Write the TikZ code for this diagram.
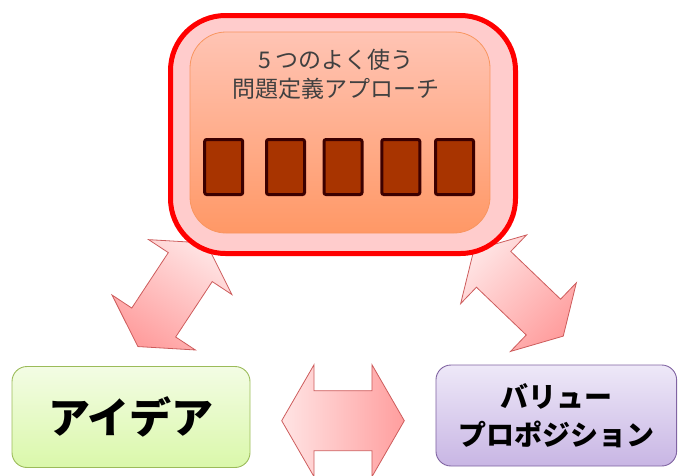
\documentclass[tikz,border=0pt]{standalone}
\usepackage{xcolor}
\usepackage{fontspec}
\usepackage{tikz}
\usetikzlibrary{shapes.arrows}
\newfontfamily\jpfont{Noto Sans CJK JP}

\definecolor{framered}{RGB}{255,0,0}
\definecolor{framefill}{RGB}{255,204,204}
\definecolor{coretop}{RGB}{255,196,180}
\definecolor{corebottom}{RGB}{255,152,102}
\definecolor{coreline}{RGB}{248,150,96}
\definecolor{cardfill}{RGB}{168,52,0}
\definecolor{cardline}{RGB}{60,0,0}
\definecolor{arrowlight}{RGB}{255,228,228}
\definecolor{arrowdark}{RGB}{255,158,158}
\definecolor{arrowline}{RGB}{205,92,92}
\definecolor{ideatop}{RGB}{243,252,228}
\definecolor{ideabottom}{RGB}{218,248,170}
\definecolor{idealine}{RGB}{155,187,89}
\definecolor{valuetop}{RGB}{238,232,248}
\definecolor{valuebottom}{RGB}{200,182,228}
\definecolor{valueline}{RGB}{128,100,162}
\definecolor{titlegray}{RGB}{64,64,64}

\begin{document}
\begin{tikzpicture}[x=1pt,y=-1pt,
    bigarrow/.style={double arrow,draw=arrowline,line width=0.8pt,inner xsep=0pt,
      double arrow tip angle=120,shading=axis,top color=arrowlight,bottom color=arrowdark},
    card/.style={draw=cardline,line width=3pt,fill=cardfill,rounded corners=2pt,
      minimum width=38pt,minimum height=55pt,inner sep=0pt},
    goalbox/.style={rounded corners=15pt,line width=0.9pt,minimum height=101pt,inner sep=0pt}]
  \useasboundingbox (0,0) rectangle (678,475);
  % double arrows
  \node[bigarrow,minimum height=124pt,inner ysep=25.9pt,double arrow head extend=23.6pt,
    rotate=56.6,shading angle=-33.4](leftarrow) at (172,294.8) {};
  \node[bigarrow,minimum height=124pt,inner ysep=24.4pt,double arrow head extend=22.8pt,
    rotate=-43.8,shading angle=46.2](rightarrow) at (518.5,293.2) {};
  \node[bigarrow,minimum height=122.6pt,inner ysep=29.6pt,double arrow head extend=26.1pt,
    shading angle=90](midarrow) at (343,420.7) {};
  % top block
  \node[draw=framered,line width=5pt,fill=framefill,rounded corners=55pt,
    minimum width=345pt,minimum height=238pt](approach) at (343,134.5) {};
  \node[draw=coreline,line width=0.8pt,top color=coretop,bottom color=corebottom,
    rounded corners=36pt,minimum width=300pt,minimum height=201pt](core) at (340,132.5) {};
  \node[font={\jpfont\fontsize{23}{29}\selectfont},text=titlegray,align=center](title)
    at (336,74.5) {5 つのよく使う\\問題定義アプローチ};
  \foreach \cx [count=\i] in {223.7,285.5,343,400.8,454.5}
    \node[card](card\i) at (\cx,167) {};
  % bottom blocks
  \node[goalbox,draw=idealine,top color=ideatop,bottom color=ideabottom,minimum width=238pt,
    font={\jpfont\bfseries\fontsize{42}{42}\selectfont}](idea) at (131,417) {アイデア};
  \node[goalbox,draw=valueline,top color=valuetop,bottom color=valuebottom,minimum width=240.7pt,
    align=center,font={\jpfont\bfseries\fontsize{28}{38}\selectfont}](value) at (556.3,415.5)
    {バリュー\\プロポジション};
\end{tikzpicture}
\end{document}
